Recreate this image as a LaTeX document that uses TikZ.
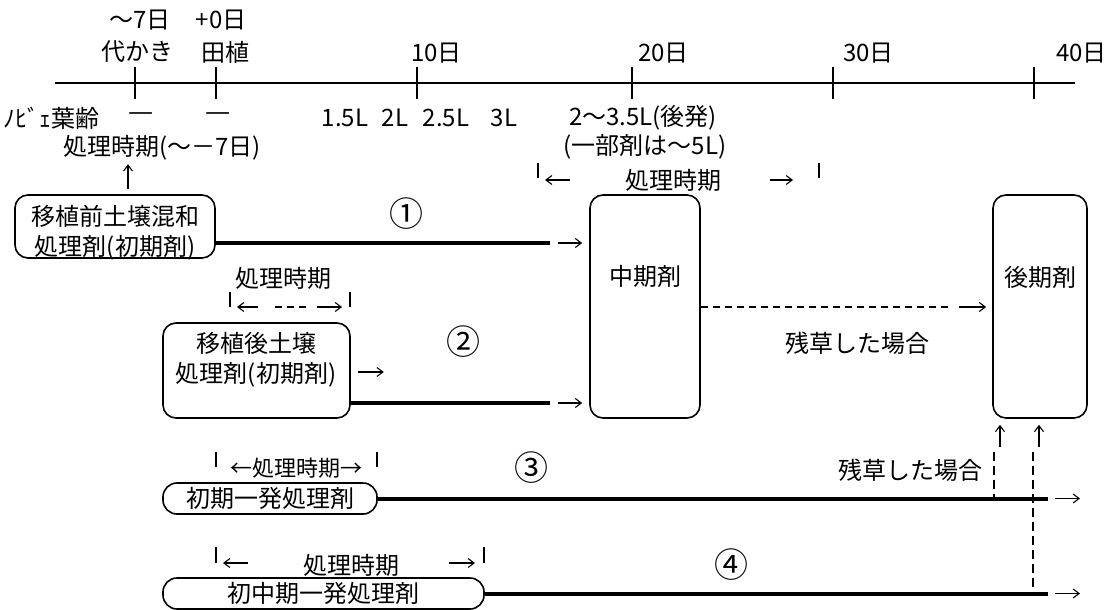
\documentclass[tikz,border=0pt]{standalone}
\usepackage{fontspec}
\setmainfont{Noto Sans CJK JP}
\usetikzlibrary{arrows.meta}
\begin{document}
\begin{tikzpicture}[x=1pt,y=-1pt,
  every node/.style={font=\fontsize{24}{30}\selectfont, inner sep=0pt},
  circnum/.style={font=\fontsize{34}{34}\selectfont},
  box/.style={draw, line width=1.6pt, rounded corners=13pt},
  pill/.style={draw, line width=1.6pt, rounded corners=14pt},
  heavy/.style={line width=4pt},
  axisline/.style={line width=2.6pt},
  tickline/.style={line width=2.6pt},
  thinarr/.style={line width=1.1pt, -{Straight Barb[length=6pt,width=9pt]}},
  dsh/.style={line width=1.6pt, dash pattern=on 7pt off 5pt},
  vdsh/.style={line width=1.6pt, dash pattern=on 9pt off 5pt},
  barline/.style={line width=1.8pt},
]
\useasboundingbox (0,0) rectangle (1108,610);

% time axis
\coordinate (axL) at (55,83);
\coordinate (axR) at (1075,83);
\draw[axisline] (axL) -- (axR);
\foreach \x in {135,216,417,632,833,1034} \draw[tickline] (\x,67) -- (\x,99);

\node (t7) at (140,20) {～7日};
\node (t0) at (221,20) {+0日};
\node (shiro) at (137,52) {代かき};
\node (taue) at (225,52) {田植};
\node[anchor=west] (d10) at (411,53) {10日};
\node[anchor=west] (d20) at (638,53) {20日};
\node[anchor=west] (d30) at (843,53) {30日};
\node[anchor=west] (d40) at (1056,53) {40日};

% leaf age row
\node[anchor=west] (leaf) at (3,118) {ﾉﾋﾞｪ葉齢};
\node (m1) at (141,118) {\scalebox{1.3}[1]{－}};
\node (m2) at (218,118) {\scalebox{1.3}[1]{－}};
\node (l1) at (345,118) {1.5L};
\node (l2) at (395,118) {2L};
\node (l3) at (446,118) {2.5L};
\node (l4) at (504,118) {3L};
\node (l5) at (643,118) {2～3.5L(後発)};
\node (l6) at (645,147) {(一部剤は～5L)};
\node (l7) at (162,148) {処理時期(～－7日)};

% boxes
\node[box, minimum width=200pt, minimum height=63pt] (b1) at (115,226.5) {};
\node[align=center] (b1t) at (115,233) {移植前土壌混和\\処理剤(初期剤)};
\node[box, minimum width=110pt, minimum height=223pt] (mid) at (645,306.5) {};
\node (midt) at (645,276) {中期剤};
\node[box, minimum width=94pt, minimum height=223pt] (late) at (1040,306.5) {};
\node (latet) at (1040,277) {後期剤};
\node[box, minimum width=187pt, minimum height=95pt] (b2) at (256.5,370.5) {};
\node[align=center] (b2t) at (256,360) {移植後土壌\\処理剤(初期剤)};
\node[pill, minimum width=214pt, minimum height=31pt] (b3) at (270,498.5) {初期一発処理剤};
\node[pill, minimum width=321pt, minimum height=31pt] (b4) at (323.5,593.5) {初中期一発処理剤};

% circled numbers
\node[circnum] (n1) at (406,214) {①};
\node[circnum] (n2) at (463,342) {②};
\node[circnum] (n3) at (531,468) {③};
\node[circnum] (n4) at (731,565) {④};

% remaining-weed labels
\node (r1) at (857,343) {残草した場合};
\node (r2) at (910,470) {残草した場合};

% arrow from box 1 up to its period
\draw[thinarr, shorten <=5pt] ([xshift=13pt]b1.north) -- ++(0,-30);

% period bracket for mid-season herbicide
\draw[barline] (538,163) -- (538,178);
\draw[barline] (819,163) -- (819,178);
\draw[thinarr] (570,180) -- (545,180);
\node (p2) at (673,180) {処理時期};
\draw[thinarr] (770,180) -- (793,180);

% period bracket for box 2
\node (p1) at (283,278) {処理時期};
\draw[barline] (230,292) -- (230,307);
\draw[barline] (350,292) -- (350,307);
\draw[thinarr] (258,307) -- (237,307);
\draw[dsh] (275,307) -- (310,307);
\draw[thinarr] (317,307) -- (342,307);
\draw[thinarr] ([xshift=7pt]b2.east |- 0,372) -- ++(26,0);

% period bracket row 3
\draw[barline] (216,452) -- (216,467);
\draw[barline] (377,452) -- (377,467);
\node[font=\fontsize{22}{30}\selectfont] (p3) at (296,468) {←処理時期→};

% period bracket row 4
\draw[barline] (216,547) -- (216,563);
\draw[barline] (484,547) -- (484,563);
\draw[thinarr] (248,563) -- (223,563);
\node (p4) at (351,565) {処理時期};
\draw[thinarr] (449,563) -- (475,563);

% connectors
\coordinate (e1) at (550,243);
\draw[heavy] (b1.east |- e1) -- (e1);
\draw[thinarr, shorten >=7pt] ([xshift=8pt]e1) -- (mid.west |- e1);

\coordinate (e2) at (550,403);
\draw[heavy] (b2.east |- e2) -- (e2);
\draw[thinarr, shorten >=7pt] ([xshift=8pt]e2) -- (mid.west |- e2);

\coordinate (e3) at (950,307);
\draw[dsh] (mid.east |- e3) -- (e3);
\draw[thinarr, shorten >=6pt] ([xshift=9pt]e3) -- (late.west |- e3);

\coordinate (e4) at (1048,498.5);
\coordinate (e4a) at (1080,498.5);
\draw[heavy] (b3.east) -- (e4);
\draw[thinarr] ([xshift=7pt]e4) -- (e4a);

\coordinate (e5) at (1048,593.5);
\coordinate (e5a) at (1080,593.5);
\draw[heavy] (b4.east) -- (e5);
\draw[thinarr] ([xshift=7pt]e5) -- (e5a);

\coordinate (v1) at (994,452);
\coordinate (v2) at (1033,452);
\draw[vdsh] (v1) -- (v1 |- e4);
\draw[vdsh] (v2) -- (v2 |- e5);
\coordinate (u1) at (1000,447);
\coordinate (u2) at (1039,447);
\draw[thinarr, shorten >=6pt] (u1) -- (u1 |- late.south);
\draw[thinarr, shorten >=6pt] (u2) -- (u2 |- late.south);
\end{tikzpicture}
\end{document}
